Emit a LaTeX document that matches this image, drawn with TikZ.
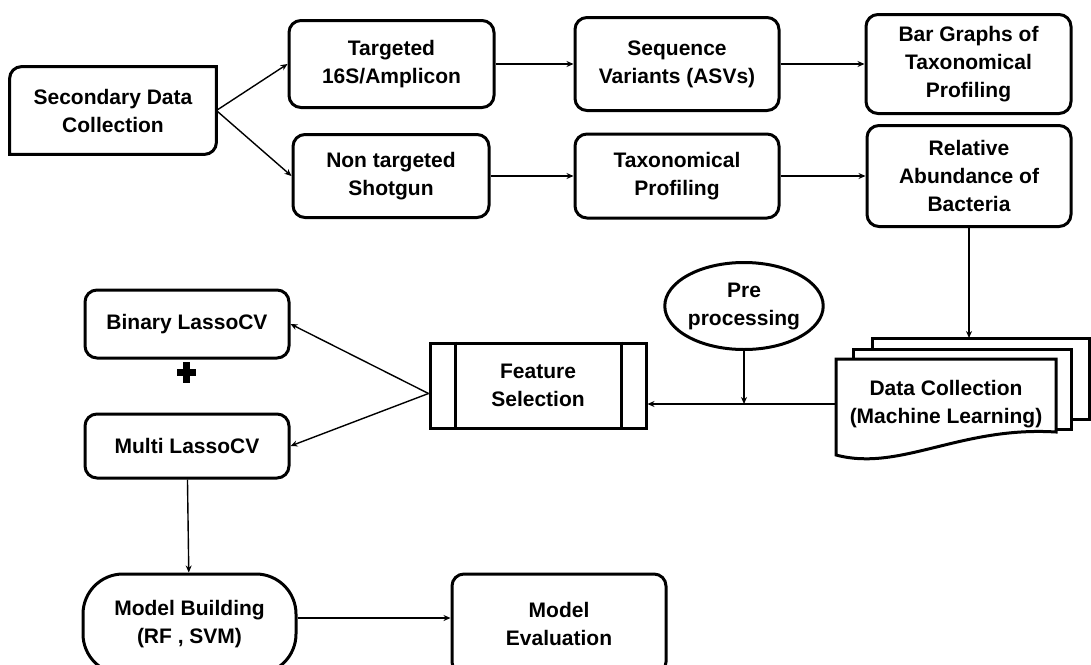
\documentclass[tikz,border=0pt]{standalone}
\usepackage{fontspec}
\setmainfont{Liberation Sans}
\usetikzlibrary{positioning, arrows.meta, shapes.geometric, calc}

\begin{document}
\begin{tikzpicture}[
    x=0.5pt, y=-0.5pt,
    box/.style={rectangle, draw, line width=1.5pt, rounded corners=6pt, align=center, inner sep=2pt, font=\bfseries\fontsize{10.5}{14}\selectfont},
    plain/.style={rectangle, align=center, inner sep=2pt, font=\bfseries\fontsize{10.5}{14}\selectfont},
    shapeline/.style={line width=1.5pt, fill=white},
    arrow/.style={-{Stealth[length=3.5pt, width=3pt]}, line width=0.7pt},
]
\useasboundingbox (0,0) rectangle (1091,664);

\node[plain, minimum width=103pt, minimum height=43.5pt] (sec) at (113,110.5) {Secondary Data\\Collection};
\draw[line width=1.5pt] ([yshift=-6pt]sec.north west) arc[start angle=180, end angle=90, radius=6pt] -- (sec.north east) -- ([yshift=6pt]sec.south east) arc[start angle=0, end angle=-90, radius=6pt] -- (sec.south west) -- cycle;

\node[box, minimum width=102.5pt, minimum height=43.5pt] (tgt) at (391.5,64) {Targeted\\16S/Amplicon};
\node[box, minimum width=102pt, minimum height=46.5pt, right=39pt of tgt] (seq) {Sequence\\Variants (ASVs)};
\node[box, minimum width=102.5pt, minimum height=49.5pt, right=42pt of seq] (bar) {Bar Graphs of\\Taxonomical\\Profiling};

\node[box, minimum width=98pt, minimum height=41.5pt] (ntg) at (391,176) {Non targeted\\Shotgun};
\node[box, minimum width=102pt, minimum height=42pt, right=41.5pt of ntg] (tax) {Taxonomical\\Profiling};
\node[box, minimum width=102pt, minimum height=50.5pt, right=42.5pt of tax] (rel) {Relative\\Abundance of\\Bacteria};

\draw[arrow] (sec.east) -- (tgt.west);
\draw[arrow] (sec.east) -- (ntg.west);
\draw[arrow] (tgt) -- (seq);
\draw[arrow] (seq) -- (bar);
\draw[arrow] (ntg) -- (tax);
\draw[arrow] (tax) -- (rel);

% stacked documents
\coordinate (dctop) at (962,338);
\draw[shapeline] (872,419) -- (872,338) -- (1089,338) -- (1089,419) -- cycle;
\draw[shapeline] (853,429) -- (853,349) -- (1071,349) -- (1071,429) -- cycle;
\draw[shapeline] (836,455) -- (836,359) -- (1056,359) -- (1056,432) .. controls (960,426) and (900,472) .. (836,455) -- cycle;
\node[plain, minimum width=110pt] (dc) at (946,404) {Data Collection\\(Machine Learning)};

\draw[arrow] (rel.south) -- (rel.south |- dctop);

\node[ellipse, draw, line width=1.5pt, minimum width=75pt, minimum height=43.5pt, inner sep=0pt, align=center, font=\bfseries\fontsize{10.5}{14}\selectfont] (pre) at (744,306) {Pre\\processing};

\node[box, sharp corners, minimum width=108pt, minimum height=42.5pt] (fsel) at (538,385.5) {Feature\\Selection};
\draw[line width=1.5pt] ([xshift=13.5pt]fsel.north west) -- ([xshift=13.5pt]fsel.south west);
\draw[line width=1.5pt] ([xshift=-13pt]fsel.north east) -- ([xshift=-13pt]fsel.south east);

\draw[arrow] (dc.west) -- (dc.west -| fsel.east);
\draw[arrow] (pre) -- (pre |- dc.west);

\node[box, minimum width=102pt, minimum height=34pt] (bin) at (187,324) {Binary LassoCV};
\node[box, minimum width=102pt, minimum height=32pt, below=26.5pt of bin] (mul) {Multi LassoCV};

\coordinate (plus) at (186,372);
\fill ($(plus)+(-9.5,-3.5)$) rectangle ++(19,7);
\fill ($(plus)+(-3.5,-10.5)$) rectangle ++(7,21);

\draw[arrow] ([yshift=-4pt]fsel.west) -- (bin.east);
\draw[arrow] ([yshift=-4pt]fsel.west) -- (mul.east);

\node[box, rounded corners=20pt, minimum width=106.5pt, minimum height=50pt] (mb) at (189.5,624) {Model Building\\(RF , SVM)};
\node[box, minimum width=107pt, minimum height=50pt, right=76.5pt of mb] (mev) {Model\\Evaluation};

\draw[arrow] (mul) -- (mb);
\draw[arrow] ([yshift=3pt]mb.east) -- ([yshift=3pt]mev.west);

\end{tikzpicture}
\end{document}
